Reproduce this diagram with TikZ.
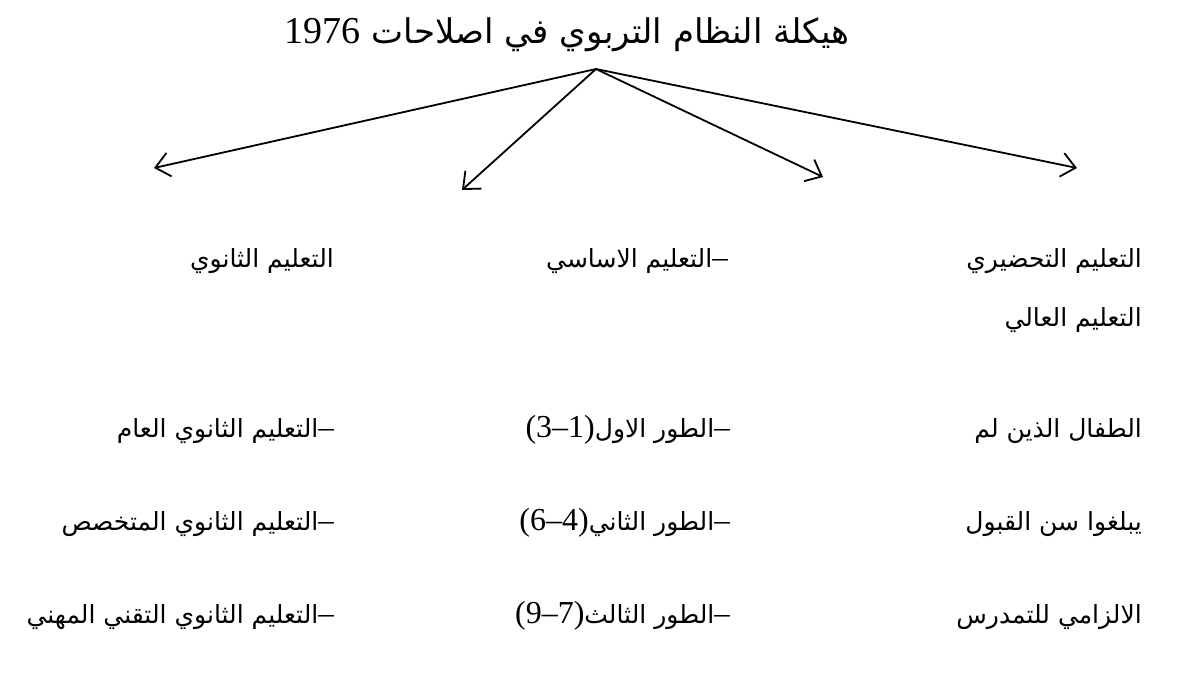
\documentclass[tikz,border=0pt]{standalone}
\usepackage{fontspec}
\setmainfont{Liberation Serif}
\newfontfamily\arabicfont[Script=Arabic]{DejaVu Sans}
\newfontfamily\digfont{Liberation Serif}
\TeXXeTstate=1
\usetikzlibrary{arrows.meta}
\newcommand{\mydash}{\hbox{\digfont\fontsize{31}{35}\selectfont –}}
\newcommand{\mynum}[1]{\hbox{\digfont\fontsize{32}{36}\selectfont #1}}
\newcommand{\titlenum}[1]{\hbox{\digfont\fontsize{38}{42}\selectfont #1}}
\begin{document}
\begin{tikzpicture}[x=1pt,y=-1pt,
  ar/.style={font=\arabicfont\fontsize{25}{30}\selectfont, inner sep=0pt, anchor=base east},
  ttl/.style={font=\arabicfont\fontsize{34}{38}\selectfont, inner sep=0pt, anchor=base east},
  conn/.style={line width=1.8pt, -{Straight Barb[length=14pt,width=24pt,line width=1.8pt]}}]
\useasboundingbox (0,0) rectangle (1192,677);
\node[ttl] (title) at (850,44) {\beginR هيكلة النظام التربوي في اصلاحات \titlenum{1976}\endR};
\coordinate (apex) at (596,69);
\coordinate (t1) at (154,168);
\coordinate (t2) at (462,190);
\coordinate (t3) at (823,177);
\coordinate (t4) at (1077,168);
\draw[conn] (apex) -- (t1);
\draw[conn] (apex) -- (t2);
\draw[conn] (apex) -- (t3);
\draw[conn] (apex) -- (t4);
\node[ar] (r1) at (1142,267) {\beginR التعليم التحضيري\endR};
\node[ar] (m1) at (728,267) {\beginR\mydash التعليم الاساسي\endR};
\node[ar] (l1) at (334,267) {\beginR التعليم الثانوي\endR};
\node[ar] (r2) at (1142,326) {\beginR التعليم العالي\endR};
\node[ar] (r3) at (1142,437) {\beginR الطفال الذين لم\endR};
\node[ar] (m3) at (730,437) {\beginR\mydash الطور الاول\mynum{(3–1)}\endR};
\node[ar] (l3) at (334,437) {\beginR\mydash التعليم الثانوي العام\endR};
\node[ar] (r4) at (1142,530) {\beginR يبلغوا سن القبول\endR};
\node[ar] (m4) at (730,530) {\beginR\mydash الطور الثاني\mynum{(6–4)}\endR};
\node[ar] (l4) at (334,530) {\beginR\mydash التعليم الثانوي المتخصص\endR};
\node[ar] (r5) at (1142,623) {\beginR الالزامي للتمدرس\endR};
\node[ar] (m5) at (730,623) {\beginR\mydash الطور الثالث\mynum{(9–7)}\endR};
\node[ar] (l5) at (334,623) {\beginR\mydash التعليم الثانوي التقني المهني\endR};
\end{tikzpicture}
\end{document}
